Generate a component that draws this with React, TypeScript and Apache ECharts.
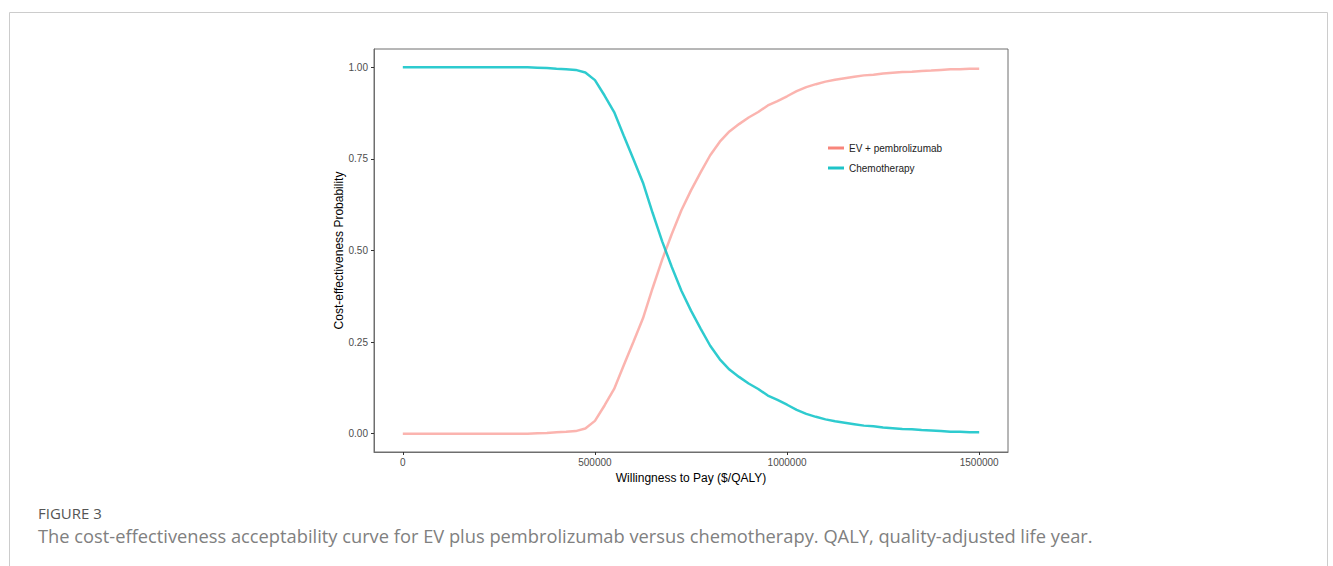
import React, { useEffect, useRef } from "react";
import * as echarts from "echarts";

const wtp: number[] = [
  0, 25000, 50000, 75000, 100000, 125000, 150000, 175000, 200000, 225000,
  250000, 275000, 300000, 325000, 350000, 375000, 400000, 425000, 450000, 475000,
  500000, 525000, 550000, 575000, 600000, 625000, 650000, 675000, 700000, 725000,
  750000, 775000, 800000, 825000, 850000, 875000, 900000, 925000, 950000, 975000,
  1000000, 1025000, 1050000, 1075000, 1100000, 1125000, 1150000, 1175000, 1200000, 1225000,
  1250000, 1275000, 1300000, 1325000, 1350000, 1375000, 1400000, 1425000, 1450000, 1475000,
  1500000,
];

const chemotherapy: number[] = [
  1.0, 1.0, 1.0, 1.0, 1.0, 1.0, 1.0, 1.0, 1.0, 1.0,
  1.0, 1.0, 1.0, 1.0, 0.999, 0.998, 0.996, 0.995, 0.993, 0.986,
  0.965, 0.923, 0.878, 0.813, 0.75, 0.685, 0.603, 0.525, 0.455, 0.39,
  0.336, 0.287, 0.24, 0.203, 0.175, 0.155, 0.137, 0.122, 0.104, 0.092,
  0.079, 0.065, 0.054, 0.046, 0.039, 0.034, 0.03, 0.026, 0.022, 0.02,
  0.017, 0.015, 0.013, 0.012, 0.01, 0.009, 0.007, 0.005, 0.005, 0.004,
  0.004,
];

const evPembrolizumab: number[] = [
  0.0, 0.0, 0.0, 0.0, 0.0, 0.0, 0.0, 0.0, 0.0, 0.0,
  0.0, 0.0, 0.0, 0.0, 0.001, 0.002, 0.004, 0.005, 0.007, 0.014,
  0.035, 0.077, 0.122, 0.187, 0.25, 0.315, 0.397, 0.475, 0.545, 0.61,
  0.664, 0.713, 0.76, 0.797, 0.825, 0.845, 0.863, 0.878, 0.896, 0.908,
  0.921, 0.935, 0.946, 0.954, 0.961, 0.966, 0.97, 0.974, 0.978, 0.98,
  0.983, 0.985, 0.987, 0.988, 0.99, 0.991, 0.993, 0.995, 0.995, 0.996,
  0.996,
];

const yTicks: number[] = [0, 0.25, 0.5, 0.75, 1];
const xTicks: number[] = [0, 500000, 1000000, 1500000];

const seriesNames: string[] = ["EV + pembrolizumab", "Chemotherapy"];

export default function App() {
  const ref = useRef<HTMLDivElement>(null);

  useEffect(() => {
    if (!ref.current) return;
    const chart = echarts.init(ref.current, undefined, { renderer: "svg" });
    const labelFont = "'Liberation Sans', Arial, sans-serif";
    const axisLine = { show: true, onZero: false, lineStyle: { color: "#6e6e6e", width: 1 } };
    chart.setOption({
      animation: false,
      backgroundColor: "#ffffff",
      grid: {
        left: 374,
        top: 49,
        width: 634,
        height: 403,
        show: true,
        borderColor: "#6e6e6e",
        borderWidth: 1,
        backgroundColor: "transparent",
      },
      legend: {
        orient: "vertical",
        left: 823,
        top: 137,
        icon: "rect",
        itemWidth: 16,
        itemHeight: 3,
        itemGap: 8,
        data: [
          { name: seriesNames[0], itemStyle: { color: "#F8857B" } },
          { name: seriesNames[1], itemStyle: { color: "#1EC4C8" } },
        ],
        textStyle: { fontFamily: labelFont, fontSize: 10, color: "#222", lineHeight: 12 },
      },
      xAxis: {
        type: "value",
        min: -75000,
        max: 1575000,
        name: "Willingness to Pay ($/QALY)",
        nameLocation: "middle",
        nameGap: 15,
        nameTextStyle: { fontFamily: labelFont, fontSize: 12, color: "#000" },
        axisLine,
        splitLine: { show: false },
        axisTick: {
          show: true,
          length: 3,
          lineStyle: { color: "#333" },
          customValues: xTicks,
        },
        axisLabel: {
          customValues: xTicks,
          margin: 5,
          fontFamily: labelFont,
          fontSize: 10,
          color: "#4d4d4d",
          formatter: (v: number) => String(Math.round(v)),
        },
      },
      yAxis: {
        type: "value",
        min: -0.05,
        max: 1.05,
        name: "Cost-effectiveness Probability",
        nameLocation: "middle",
        nameGap: 29,
        nameRotate: 90,
        nameTextStyle: { fontFamily: labelFont, fontSize: 12, color: "#000" },
        axisLine,
        splitLine: { show: false },
        axisTick: {
          show: true,
          length: 3,
          lineStyle: { color: "#333" },
          customValues: yTicks,
        },
        axisLabel: {
          customValues: yTicks,
          margin: 6,
          fontFamily: labelFont,
          fontSize: 10,
          color: "#4d4d4d",
          formatter: (v: number) => v.toFixed(2),
        },
      },
      series: [
        {
          name: seriesNames[0],
          type: "line",
          data: wtp.map((x, i) => [x, evPembrolizumab[i]]),
          showSymbol: false,
          symbol: "none",
          itemStyle: { color: "#F8857B" },
          lineStyle: { color: "rgba(248,118,109,0.55)", width: 2.5 },
        },
        {
          name: seriesNames[1],
          type: "line",
          data: wtp.map((x, i) => [x, chemotherapy[i]]),
          showSymbol: false,
          symbol: "none",
          itemStyle: { color: "#1EC4C8" },
          lineStyle: { color: "rgba(0,191,196,0.82)", width: 2.5 },
        },
      ],
      graphic: [
        {
          type: "rect",
          shape: { x: 9.5, y: 12.5, width: 1318, height: 620 },
          style: { fill: "none", stroke: "#cccccc", lineWidth: 1 },
          silent: true,
        },
        {
          type: "text",
          left: 38,
          top: 505,
          style: {
            text: "FIGURE 3",
            fontFamily: "'Open Sans', sans-serif",
            fontSize: 15,
            fill: "#555555",
          },
        },
        {
          type: "text",
          left: 38,
          top: 526,
          style: {
            text: "The cost-effectiveness acceptability curve for EV plus pembrolizumab versus chemotherapy. QALY, quality-adjusted life year.",
            fontFamily: "'Open Sans', sans-serif",
            fontSize: 18.3,
            fill: "#808080",
          },
        },
      ],
    });
    return () => chart.dispose();
  }, []);

  return (
    <div
      ref={ref}
      style={{ position: "absolute", left: 0, top: 0, width: 1333, height: 566 }}
    />
  );
}
